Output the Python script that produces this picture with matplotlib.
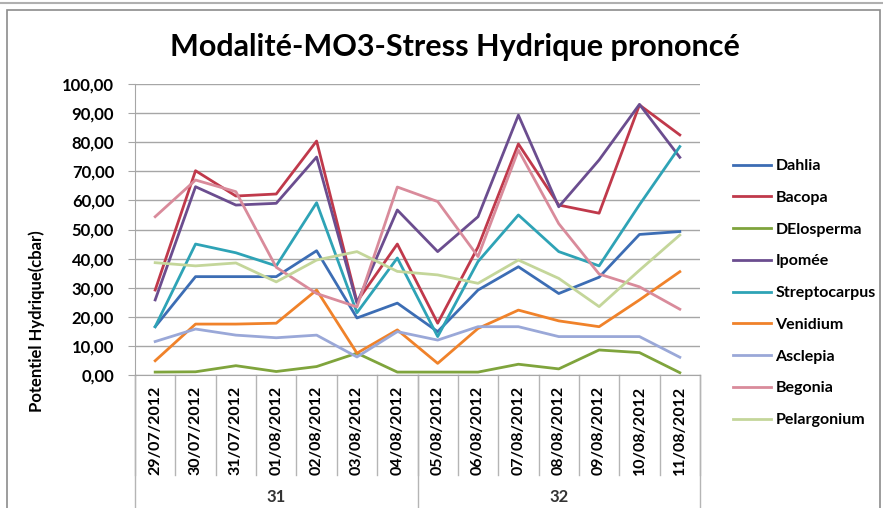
import matplotlib.pyplot as plt
from matplotlib.patches import Rectangle
from matplotlib.lines import Line2D
import numpy as np

# dates (category axis) and week numbers
dates = ["29/07/2012", "30/07/2012", "31/07/2012", "01/08/2012", "02/08/2012",
         "03/08/2012", "04/08/2012", "05/08/2012", "06/08/2012", "07/08/2012",
         "08/08/2012", "09/08/2012", "10/08/2012", "11/08/2012"]
weeks = ["31", "32"]
week_size = [7, 7]

dahlia        = [16.6, 33.8, 33.8, 33.8, 42.7, 19.6, 24.7, 14.9, 29.2, 37.2, 28.0, 33.6, 48.3, 49.3]
bacopa        = [29.2, 70.2, 61.5, 62.2, 80.4, 25.2, 45.0, 17.8, 44.0, 79.4, 58.4, 55.6, 92.8, 82.5]
delosperma    = [1.0, 1.1, 3.2, 1.2, 2.9, 7.5, 1.0, 1.0, 1.0, 3.7, 2.1, 8.6, 7.7, 0.8]
ipomee        = [25.8, 64.7, 58.4, 59.0, 74.9, 24.7, 56.7, 42.4, 54.4, 89.3, 57.8, 73.9, 93.0, 74.8]
streptocarpus = [16.6, 45.0, 42.0, 37.5, 59.2, 21.4, 40.2, 13.2, 39.0, 55.0, 42.4, 37.5, 58.5, 78.5]
venidium      = [4.9, 17.5, 17.5, 17.8, 29.2, 7.5, 15.5, 4.0, 16.0, 22.3, 18.6, 16.6, 25.8, 35.5]
asclepia      = [11.5, 15.8, 13.7, 12.8, 13.7, 6.2, 14.9, 12.0, 16.6, 16.6, 13.2, 13.2, 13.2, 6.1]
begonia       = [54.4, 67.0, 63.0, 37.0, 28.0, 23.4, 64.6, 59.6, 40.7, 77.3, 52.0, 34.7, 30.3, 22.6]
pelargonium   = [38.6, 37.5, 38.5, 32.0, 39.5, 42.4, 35.6, 34.4, 31.5, 39.5, 33.2, 23.5, 36.0, 48.1]

names = ["Dahlia", "Bacopa", "DElosperma", "Ipomée", "Streptocarpus",
         "Venidium", "Asclepia", "Begonia", "Pelargonium"]
series = [dahlia, bacopa, delosperma, ipomee, streptocarpus,
          venidium, asclepia, begonia, pelargonium]
colors = ["#3c6db4", "#c0394b", "#7fa43c", "#6b4d8f", "#2ea3b6",
          "#f0822a", "#9aa8d8", "#d98b9b", "#c4d69a"]

plt.rcParams['font.family'] = ['Lato', 'DejaVu Sans']
plt.rcParams['font.weight'] = 'bold'

W, H = 883, 508
fig = plt.figure(figsize=(W/100, H/100), dpi=100)

# outer chart frame
fig.patches.append(Rectangle((7/W, -0.01), (880-7)/W, (H-10)/H + 0.01,
                             transform=fig.transFigure, fill=False,
                             edgecolor="#8c8c8c", lw=1.2))
fig.lines.append(Line2D([0, 1], [1-3/H, 1-3/H], transform=fig.transFigure,
                        color="#b0b0b0", lw=1.5))

left, right, top, bottom = 135, 700, 84, 375
ax = fig.add_axes([left/W, 1-bottom/H, (right-left)/W, (bottom-top)/H])

x = np.arange(len(dates))
for name, vals, col in zip(names, series, colors):
    ax.plot(x, vals, color=col, lw=2.0, label=name)

ax.set_xlim(-0.5, len(dates)-0.5)
ax.set_ylim(0, 100)
ax.set_yticks(np.arange(0, 101, 10))
ax.set_yticklabels([("%.2f" % v).replace(".", ",") for v in np.arange(0, 101, 10)],
                   fontsize=12, fontweight='bold')
ax.yaxis.grid(True, color="#a6a6a6", lw=1)
ax.set_axisbelow(True)
for s in ["top", "right"]:
    ax.spines[s].set_visible(False)
ax.spines["left"].set_color("#a6a6a6")
ax.spines["bottom"].set_color("#a6a6a6")
ax.tick_params(axis='y', length=5, color="#a6a6a6", pad=10)

ax.set_xticks(x)
ax.set_xticklabels(dates, rotation=90, fontsize=11.5, fontweight='bold')
ax.tick_params(axis='x', length=0, pad=8)

# category separators (two levels)
tr = ax.get_xaxis_transform()
sep_len = (475-375)/(bottom-top)
for i in range(len(dates)+1):
    ax.plot([i-0.5, i-0.5], [0, -sep_len], transform=tr, color="#b5b5b5",
            lw=1, clip_on=False)
start = -0.5
grp_len = (H+5-375)/(bottom-top)
ax.plot([start, start], [0, -grp_len], transform=tr, color="#b5b5b5", lw=1, clip_on=False)
for wk, n in zip(weeks, week_size):
    ax.plot([start+n, start+n], [0, -grp_len], transform=tr, color="#b5b5b5",
            lw=1, clip_on=False)
    ax.text(start+n/2, -(497-375)/(bottom-top), wk, transform=tr, ha='center',
            va='center', fontsize=12, fontweight='bold', color="#333333")
    start += n

fig.text(37/W, 1-321/H, "Potentiel Hydrique(cbar)", rotation=90, ha='center',
         va='center', fontsize=12, fontweight='bold')
fig.text(455/W, 1-47/H, "Modalité-MO3-Stress Hydrique prononcé", ha='center',
         va='center', fontsize=22, fontweight='bold')

fig.legend(loc='upper left', bbox_to_anchor=(725/W, 1-151/H), frameon=False,
           prop={'size': 11.5, 'weight': 'bold'}, handlelength=2.4,
           handletextpad=0.25, labelspacing=1.1, borderpad=0)

fig.savefig("out.png", dpi=100)
